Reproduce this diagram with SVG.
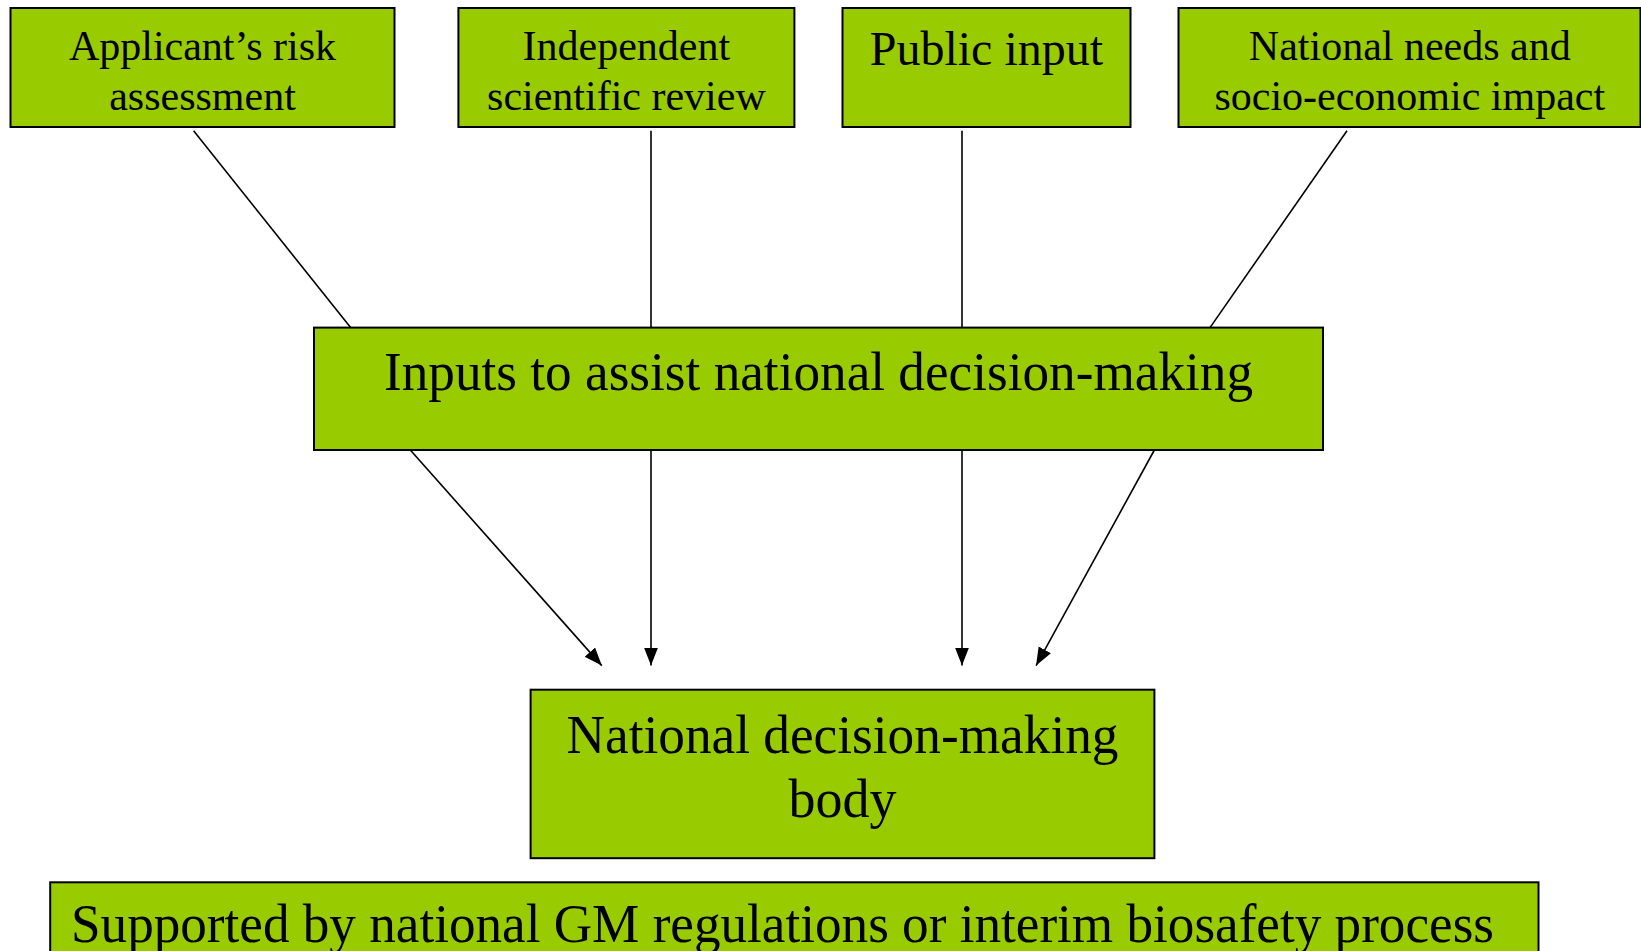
<svg xmlns="http://www.w3.org/2000/svg" width="1641" height="951" viewBox="0 0 1641 951">
<style>
.box{fill:#99CC00;stroke:#000;stroke-width:2}
.t{font-family:"Liberation Serif","Times New Roman",serif;fill:#000;text-anchor:middle}
.s42{font-size:42px}
.s48{font-size:48px}
.s54{font-size:54px}
.ln{stroke:#000;stroke-width:1.6;fill:none}
</style>
<defs>
<marker id="ah" markerUnits="userSpaceOnUse" markerWidth="20" markerHeight="16" refX="18" refY="7" orient="auto">
<path d="M0,0 L18,7 L0,14 z" fill="#000"/>
</marker>
</defs>
<rect width="1641" height="951" fill="#fff"/>
<g id="connectors">
<line class="ln" x1="193.6" y1="130.8" x2="350.6" y2="327.6"/>
<line class="ln" x1="651" y1="130.8" x2="651" y2="327.6"/>
<line class="ln" x1="962" y1="130.8" x2="962" y2="327.6"/>
<line class="ln" x1="1347" y1="130.8" x2="1210" y2="327.6"/>
<line class="ln" x1="410.3" y1="450" x2="601.8" y2="665.6" marker-end="url(#ah)"/>
<line class="ln" x1="651" y1="450" x2="651" y2="665.6" marker-end="url(#ah)"/>
<line class="ln" x1="962" y1="450" x2="962" y2="665.6" marker-end="url(#ah)"/>
<line class="ln" x1="1154.4" y1="450" x2="1036.1" y2="665.6" marker-end="url(#ah)"/>
</g>
<g id="n1">
<rect class="box" x="10.5" y="8" width="384" height="119"/>
<text class="t s42" x="202.5" y="59.7">Applicant’s risk</text>
<text class="t s42" x="202.5" y="110">assessment</text>
</g>
<g id="n2">
<rect class="box" x="458.4" y="8" width="336" height="119"/>
<text class="t s42" x="626.4" y="59.7">Independent</text>
<text class="t s42" x="626.4" y="110">scientific review</text>
</g>
<g id="n3">
<rect class="box" x="842.5" y="8" width="288" height="119"/>
<text class="t s48" x="986.4" y="65">Public input</text>
</g>
<g id="n4">
<rect class="box" x="1178.5" y="8" width="462" height="119"/>
<text class="t s42" x="1409.8" y="59.7">National needs and</text>
<text class="t s42" x="1409.8" y="110">socio-economic impact</text>
</g>
<g id="n5">
<rect class="box" x="314" y="327.6" width="1009" height="122.4"/>
<text class="t s54" x="818.5" y="390" textLength="869" lengthAdjust="spacingAndGlyphs">Inputs to assist national decision-making</text>
</g>
<g id="n6">
<rect class="box" x="530.6" y="689.7" width="623.8" height="168.5"/>
<text class="t s54" x="842.5" y="752.5" textLength="552" lengthAdjust="spacingAndGlyphs">National decision-making</text>
<text class="t s54" x="842.5" y="817">body</text>
</g>
<g id="n7">
<rect class="box" x="50.2" y="882.3" width="1488.3" height="80"/>
<text class="t s54" x="71" y="942" style="text-anchor:start" textLength="1423" lengthAdjust="spacingAndGlyphs">Supported by national GM regulations or interim biosafety process</text>
</g>
</svg>
